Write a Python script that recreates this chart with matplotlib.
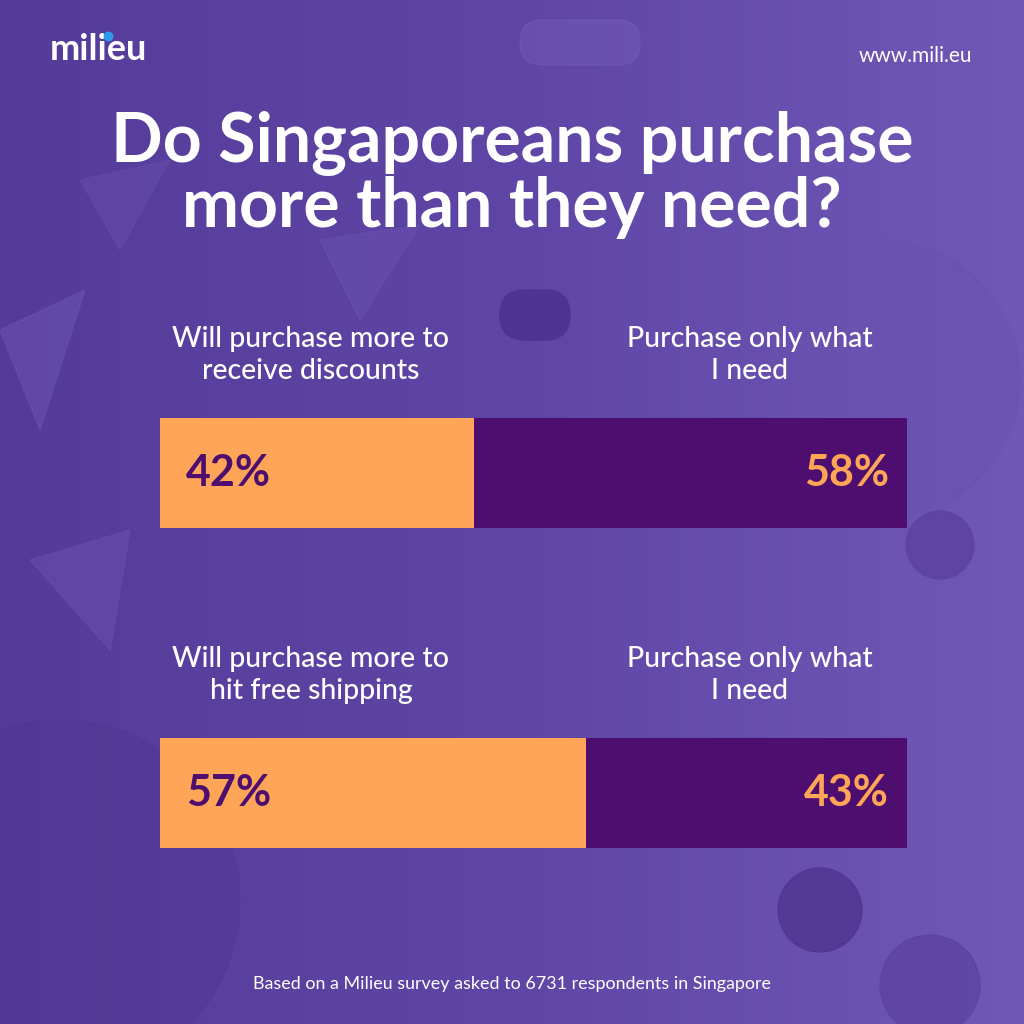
import matplotlib.pyplot as plt
import matplotlib.patches as mpatches
import numpy as np
from matplotlib.colors import LinearSegmentedColormap

# survey data (percent)
questions = ["Will purchase more to\nreceive discounts", "Will purchase more to\nhit free shipping"]
other_label = "Purchase only what\nI need"
more_pct = [42, 57]
need_pct = [58, 43]

title = "Do Singaporeans purchase\nmore than they need?"
footer = "Based on a Milieu survey asked to 6731 respondents in Singapore"

ORANGE = "#fea557"
DARK = "#4e0e6f"
plt.rcParams['font.family'] = ['Lato', 'DejaVu Sans']

fig = plt.figure(figsize=(10.24, 10.24), dpi=100)

# background with gradient and some soft shapes
bg = fig.add_axes([0, 0, 1, 1])
bg.set_xlim(0, 1024)
bg.set_ylim(1024, 0)
bg.axis('off')
grad = np.tile(np.linspace(0, 1, 256), (256, 1))
cmap = LinearSegmentedColormap.from_list("bg", ["#553b99", "#5f46a6", "#7058b7"])
bg.imshow(grad, extent=[0, 1024, 1024, 0], cmap=cmap, aspect='auto', zorder=0)

shapes = [
    mpatches.Circle((940, 545), 34, color="#5d44a3", alpha=0.9),
    mpatches.Circle((820, 910), 42, color="#4f3590", alpha=0.8),
    mpatches.Circle((930, 985), 50, color="#5a419f", alpha=0.7),
    mpatches.FancyBboxPatch((500, 290), 70, 50, boxstyle="round,pad=0,rounding_size=25", color="#4a3190", alpha=0.8),
    mpatches.FancyBboxPatch((520, 20), 120, 45, boxstyle="round,pad=0,rounding_size=22", color="#7a62c0", alpha=0.35),
    mpatches.Polygon([[0, 330], [85, 290], [40, 430]], color="#6a52b0", alpha=0.6),
    mpatches.Polygon([[30, 560], [130, 530], [110, 650]], color="#6a52b0", alpha=0.5),
    mpatches.Polygon([[320, 240], [420, 225], [360, 320]], color="#6a52b0", alpha=0.5),
    mpatches.Polygon([[80, 180], [170, 160], [120, 250]], color="#6850ae", alpha=0.45),
    mpatches.Wedge((880, 380), 140, -90, 90, color="#6a52b3", alpha=0.5),
    mpatches.Circle((60, 900), 180, color="#4f3592", alpha=0.35),
]
for s in shapes:
    bg.add_patch(s)

# header
bg.text(50, 50, "milieu", color="white", fontsize=26, fontweight='bold', va='center', ha='left')
bg.plot([108], [36], marker='o', markersize=6, color="#2d9cf0", zorder=5)
bg.text(972, 56, "www.mili.eu", color="white", fontsize=15, va='center', ha='right')
bg.text(512, 175, title, color="white", fontsize=49, fontweight='bold', ha='center', va='center',
        linespacing=1.0)

# question labels
label_y = [355, 675]
for q, y in zip(questions, label_y):
    bg.text(311, y, q, color="white", fontsize=20.5, fontweight='medium', ha='center', va='center',
            linespacing=1.32)
    bg.text(750, y, other_label, color="white", fontsize=20.5, fontweight='medium', ha='center',
            va='center', linespacing=1.32)

bg.text(512, 984, footer, color="white", fontsize=12.9, ha='center', va='center')

# stacked bars
ax = fig.add_axes([160 / 1024, 1 - 848 / 1024, (907 - 160) / 1024, (848 - 418) / 1024])
ax.set_xlim(0, 100)
ax.set_ylim(848, 418)
ax.axis('off')
bar_y = [473, 793]
ax.barh(bar_y, more_pct, height=110, color=ORANGE)
ax.barh(bar_y, need_pct, left=more_pct, height=110, color=DARK)
for y, m, n in zip(bar_y, more_pct, need_pct):
    ax.text(3.5, y, f"{m}%", color=DARK, fontsize=31, fontweight='bold', ha='left', va='center')
    ax.text(97.6, y, f"{n}%", color=ORANGE, fontsize=31, fontweight='bold', ha='right', va='center')

fig.savefig("out.png", dpi=100)
